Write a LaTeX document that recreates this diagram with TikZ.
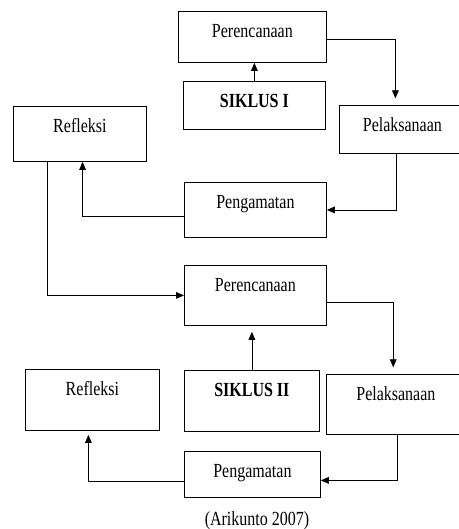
\documentclass[tikz,border=0pt]{standalone}
\usepackage{fontspec}
\setmainfont{Liberation Serif}[FakeStretch=0.8]
\usepackage{tikz}
\usetikzlibrary{arrows.meta}

\tikzset{
  kotak/.style={draw, line width=0.6pt, inner sep=0pt, anchor=north west,
    text height=19.3pt, font=\fontsize{15}{18}\selectfont},
  panah/.style={draw, line width=0.6pt, -{Triangle[length=6pt,width=5pt]}}
}

\begin{document}
\begin{tikzpicture}[x=0.75pt,y=-0.75pt]
        \useasboundingbox (0,0) rectangle (458,529);

        % siklus pertama
        \node[kotak, minimum width=111pt, text depth=19pt] (P1) at (178,11) {Perencanaan};
        \node[kotak, minimum width=106.5pt, text depth=16.7pt] (S1) at (183,81) {\textbf{SIKLUS I}};
        \node[kotak, minimum width=94.5pt, text depth=16.7pt] (L1) at (339,105) {Pelaksanaan};
        \node[kotak, minimum width=99.75pt, text depth=22pt] (R1) at (13,106) {Refleksi};
        \node[kotak, minimum width=106.5pt, text depth=22pt] (G1) at (184,182) {Pengamatan};

        % siklus kedua
        \node[kotak, minimum width=106.5pt, text depth=25.7pt] (P2) at (184,265) {Perencanaan};
        \node[kotak, minimum width=101.25pt, text depth=26.5pt] (S2) at (184,370) {\textbf{SIKLUS II}};
        \node[kotak, minimum width=100.5pt, text depth=26.5pt] (R2) at (25,369) {Refleksi};
        \node[kotak, minimum width=104.25pt, text depth=25.7pt] (L2) at (326,374) {Pelaksanaan};
        \node[kotak, minimum width=102pt, text depth=15.2pt] (G2) at (184,451) {Pengamatan};

        % sumber
        \node[anchor=base, inner sep=0pt, font=\fontsize{15}{18}\selectfont] (sumber) at (257,525.7) {(Arikunto 2007)};

        % alur siklus pertama
        \draw[panah] (S1.north) -- (S1.north |- P1.south);
        \draw[panah, shorten >=5pt] ([yshift=-2pt]P1.east) -| ([xshift=-5.25pt]L1.north);
        \draw[panah] ([xshift=-4.5pt]L1.south) |- (G1.east);
        \draw[panah] ([yshift=-5pt]G1.west) -| ([xshift=2pt]R1.south);

        % dari siklus pertama ke kedua
        \draw[panah] ([xshift=-24.4pt]R1.south) |- (P2.west);

        % alur siklus kedua
        \draw[panah, shorten >=4.5pt] (S2.north) -- (S2.north |- P2.south);
        \draw[panah, shorten >=5pt] ([yshift=-5.25pt]P2.east) -| ([xshift=-2pt]L2.north);
        \draw[panah] ([xshift=1pt]L2.south) |- ([yshift=-4.5pt]G2.east);
        \draw[panah, shorten >=3pt] ([yshift=-5pt]G2.west) -| ([xshift=-3pt]R2.south);
    \end{tikzpicture}
\end{document}
